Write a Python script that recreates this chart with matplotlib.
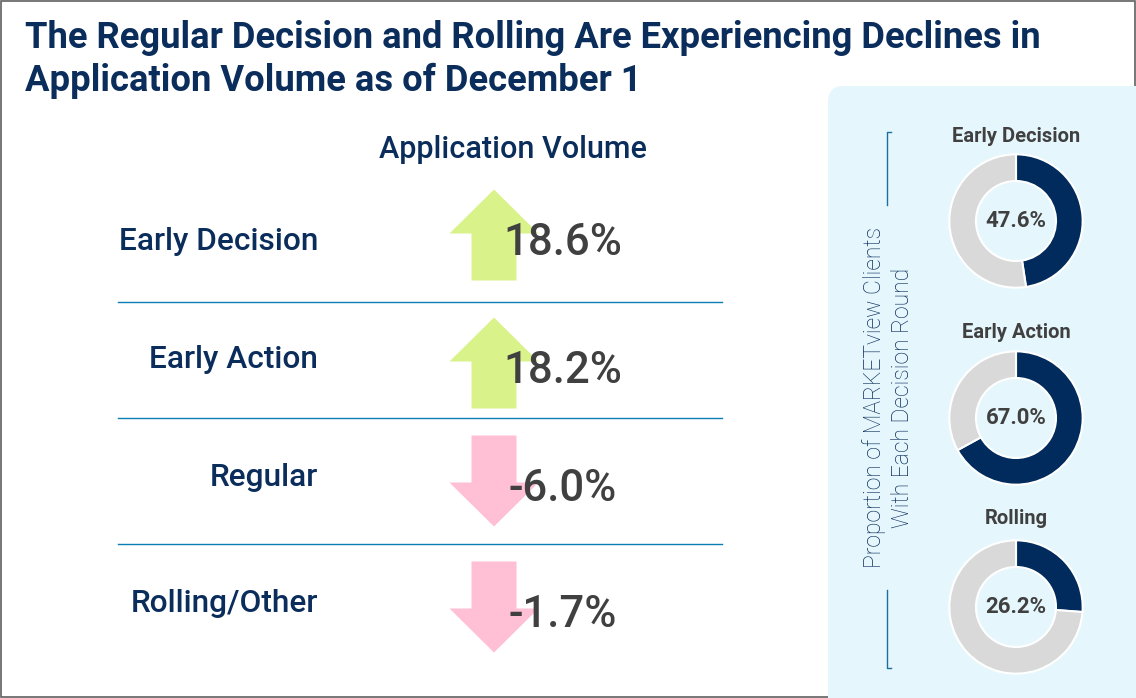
import matplotlib.pyplot as plt
from matplotlib.patches import FancyArrow, FancyBboxPatch, Rectangle

# data
rounds = ['Early Decision', 'Early Action', 'Regular', 'Rolling/Other']
change = [18.6, 18.2, -6.0, -1.7]
donut_labels = ['Early Decision', 'Early Action', 'Rolling']
donut_pct = [47.6, 67.0, 26.2]

# colors
navy = '#0b2d5b'
dark = '#404040'
up_col = '#d9f28a'
down_col = '#ffbfd4'
line_col = '#0a7fb5'
panel_col = '#e5f7fd'
W, H = 1136, 698

fig = plt.figure(figsize=(W / 100, H / 100), dpi=100)
ax = fig.add_axes([0, 0, 1, 1])
ax.set_xlim(0, W)
ax.set_ylim(H, 0)
ax.axis('off')

# border
ax.add_patch(Rectangle((0.5, 0.5), W - 1.5, H - 1.5, fill=False, ec='#606060', lw=1.2))

# title
ax.text(25, 38, 'The Regular Decision and Rolling Are Experiencing Declines in',
        fontsize=26.2, fontweight='bold', color=navy, family='Roboto', va='center')
ax.text(25, 81, 'Application Volume as of December 1',
        fontsize=26.2, fontweight='bold', color=navy, family='Roboto', va='center')

ax.text(513, 149, 'Application Volume', fontsize=22, color=navy, family='Roboto',
        fontweight='medium', ha='center', va='center')

# rows
row_y = [235, 363, 481, 607]
label_y = [241, 359, 478, 604]
for name, val, ry, ly in zip(rounds, change, row_y, label_y):
    ax.text(318, ly, name, fontsize=22.8, color=navy, family='Roboto', fontweight='medium',
            ha='right', va='center')
    if val >= 0:
        ax.add_patch(FancyArrow(494, ry + 45.5, 0, -91, width=45, head_width=89,
                                head_length=44, length_includes_head=True, color=up_col, lw=0))
    else:
        ax.add_patch(FancyArrow(494, ry - 45.5, 0, 91, width=45, head_width=89,
                                head_length=44, length_includes_head=True, color=down_col, lw=0))
    ax.text(563, ry + 8, f'{val:.1f}%', fontsize=31.5, color=dark, family='Roboto',
            ha='center', va='center', fontweight='medium')

for y in [302, 418, 544]:
    ax.plot([118, 722], [y, y], color=line_col, lw=1)

# right panel
ax.add_patch(FancyBboxPatch((828, 86), 340, 640, boxstyle='round,pad=0,rounding_size=16',
                            fc=panel_col, ec='none'))
ax.text(888, 398, 'Proportion of MARKETview Clients\nWith Each Decision Round', rotation=90,
        fontsize=16.5, color=navy, family='Roboto', fontweight='light', ha='center',
        va='center', linespacing=1.25)
ax.plot([891, 887, 887], [132, 132, 205], color='#1a6fa0', lw=1)
ax.plot([887, 887, 891], [590, 668, 668], color='#1a6fa0', lw=1)

# donuts
centers = [221, 418, 607]
title_y = [137, 333, 518]
r = 68
for lab, pct, cy, ty in zip(donut_labels, donut_pct, centers, title_y):
    ax.text(1016, ty, lab, fontsize=14.5, fontweight='bold', color=dark, family='Roboto',
            ha='center', va='center')
    dax = fig.add_axes([(1016 - r) / W, 1 - (cy + r) / H, 2 * r / W, 2 * r / H])
    dax.pie([pct, 100 - pct], colors=['#002b5c', '#d9d9d9'], startangle=90,
            counterclock=False, radius=1,
            wedgeprops=dict(width=0.4, edgecolor='white', linewidth=1.5))
    dax.set_xlim(-1.02, 1.02)
    dax.set_ylim(-1.02, 1.02)
    dax.set_aspect('equal')
    dax.text(0, 0, f'{pct:.1f}%', fontsize=16, fontweight='bold', color=dark,
             family='Roboto', ha='center', va='center')

fig.savefig('out.png', dpi=100)
